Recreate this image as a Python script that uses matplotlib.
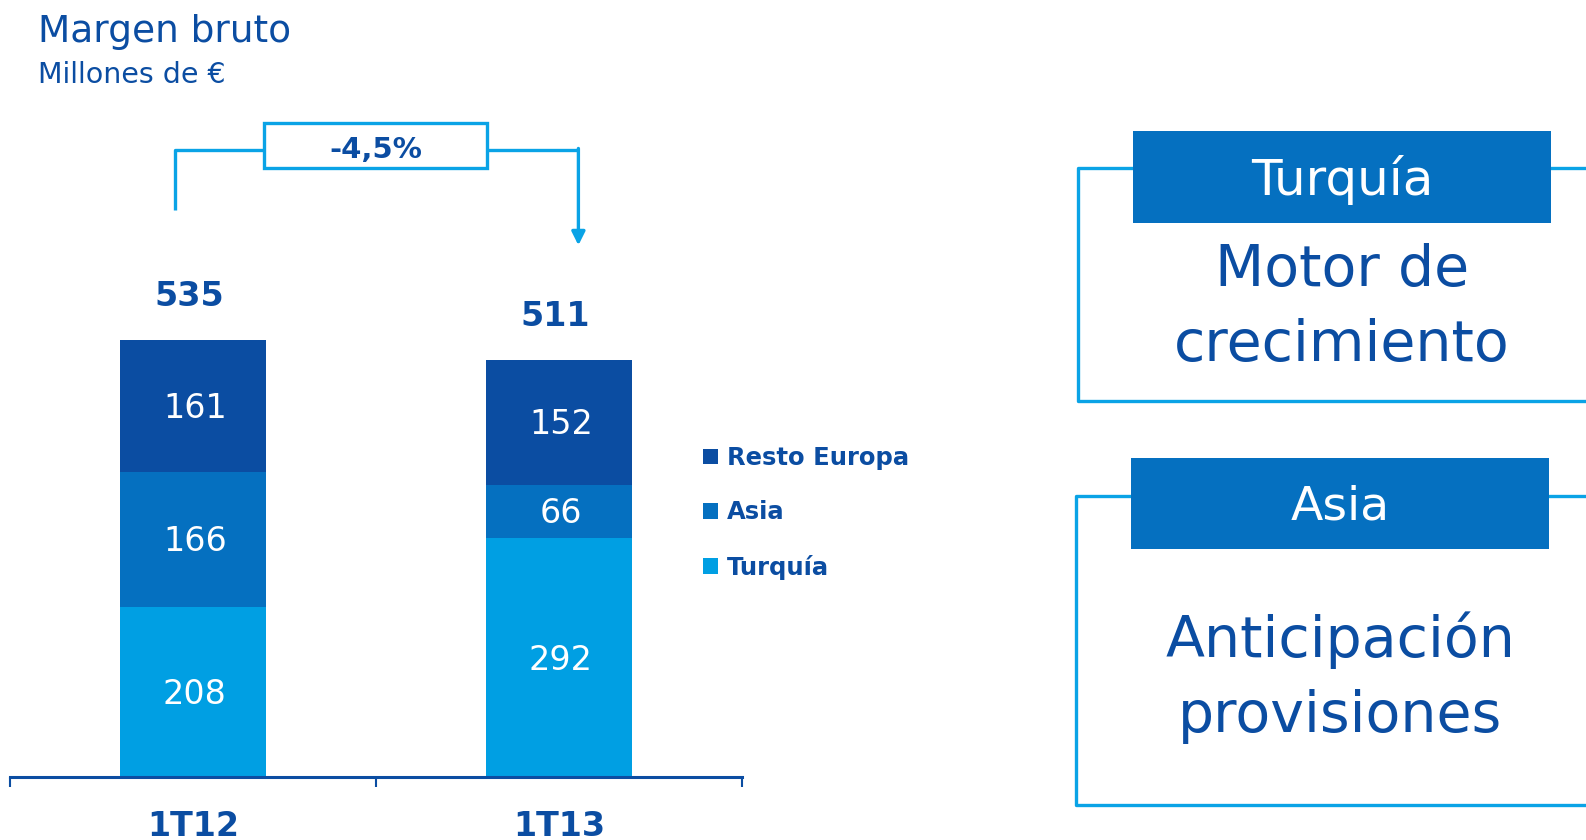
import matplotlib.pyplot as plt
from matplotlib.patches import Rectangle
from matplotlib.lines import Line2D

periods = ['1T12', '1T13']
turquia = [208, 292]
asia = [166, 66]
resto_europa = [161, 152]
totals = [535, 511]
change_label = '-4,5%'

series_names = ['Turquía', 'Asia', 'Resto Europa']
series_values = [turquia, asia, resto_europa]

panel_heads = ['Turquía', 'Asia']
panel_texts = ['Motor de\ncrecimiento', 'Anticipación\nprovisiones']

dark = '#0B4DA2'
mid = '#0570C0'
light = '#009FE3'
line_blue = '#0AA3E6'
colors = [light, mid, dark]

plt.rcParams['font.family'] = ['DejaVu Sans']

W, H = 1586, 840
fig = plt.figure(figsize=(W / 100, H / 100), dpi=100)

# bar chart axes (pixel layout from the reference)
ymax = 830
px_per_unit = 0.8168
ax_h = ymax * px_per_unit
ax = fig.add_axes([10 / W, 63 / H, 732 / W, ax_h / H])
ax.set_xlim(-0.5, 1.5)
ax.set_ylim(0, ymax)

x = list(range(len(periods)))
bottom = [0] * len(periods)
for name, vals, c in zip(series_names, series_values, colors):
    ax.bar(x, vals, width=0.40, bottom=bottom, color=c, label=name, zorder=2)
    for xi, b, v in zip(x, bottom, vals):
        ax.text(xi + 0.005, b + v / 2 - 3, str(v), ha='center', va='center',
                color='white', fontsize=24)
    bottom = [b + v for b, v in zip(bottom, vals)]

for xi, t in zip(x, totals):
    ax.text(xi - 0.01, t + 33, str(t), ha='center', va='bottom',
            color=dark, fontsize=24, fontweight='bold')

# axis styling
for s in ['top', 'right', 'left']:
    ax.spines[s].set_visible(False)
ax.spines['bottom'].set_color(dark)
ax.spines['bottom'].set_linewidth(2.2)
ax.set_yticks([])
ax.set_xticks(x)
ax.set_xticklabels(periods, fontsize=24, fontweight='bold', color=dark)
ax.tick_params(axis='x', which='major', length=0, pad=24)
ax.set_xticks([-0.5, 0.5, 1.5], minor=True)
ax.tick_params(axis='x', which='minor', length=7, width=1.5, color=dark,
               direction='out')

# change bracket
y_line = max(totals) + 233
x_l, x_r = -0.05, 1.053
box_l, box_r = 0.195, 0.802
ax.plot([x_l, x_l, box_l], [totals[0] + 159, y_line, y_line],
        color=line_blue, lw=2.4, solid_capstyle='butt', clip_on=False)
ax.plot([box_r, x_r], [y_line, y_line], color=line_blue, lw=2.4,
        solid_capstyle='butt', clip_on=False)
ax.annotate('', xy=(x_r, totals[1] + 140), xytext=(x_r, y_line + 1.5),
            arrowprops=dict(arrowstyle='-|>,head_length=0.8,head_width=0.4',
                            color=line_blue, lw=2.4, shrinkA=0, shrinkB=0),
            annotation_clip=False)
ax.add_patch(Rectangle((box_l, y_line - 23), box_r - box_l, 56,
                       facecolor='white', edgecolor=line_blue, lw=2.4,
                       clip_on=False, zorder=3))
ax.text((box_l + box_r) / 2, y_line, change_label, ha='center',
        va='center', color=dark, fontsize=21, fontweight='bold', zorder=4)

# legend
handles, labels = ax.get_legend_handles_labels()
leg = ax.legend(handles[::-1], labels[::-1], loc='upper left',
                bbox_to_anchor=(703 / W, 1 - 446 / H),
                bbox_transform=fig.transFigure, frameon=False,
                handlelength=0.6, handleheight=0.6, handletextpad=0.4,
                labelspacing=1.25, borderpad=0, borderaxespad=0,
                prop={'size': 17.5, 'weight': 'bold'})
for t in leg.get_texts():
    t.set_color(dark)

# titles
fig.text(38 / W, 1 - 32 / H, 'Margen bruto', fontsize=27, color=dark,
         va='center', ha='left')
fig.text(38 / W, 1 - 75 / H, 'Millones de €', fontsize=20.5, color=dark,
         va='center', ha='left')

# right side panels in pixel coordinates
ov = fig.add_axes([0, 0, 1, 1], zorder=-1)
ov.set_xlim(0, W)
ov.set_ylim(H, 0)
ov.axis('off')

frames = [(1078, 168, 401), (1076, 496, 805)]
heads = [(1133, 131, 223), (1131, 458, 549)]
body_y = [308, 678]
head_sizes = [36, 34]
for head, body, (fx, ft, fb), (hx, ht, hb), by, hs in zip(
        panel_heads, panel_texts, frames, heads, body_y, head_sizes):
    ov.add_line(Line2D([W + 5, fx, fx, W + 5], [ft, ft, fb, fb],
                       color=line_blue, lw=2.4))
    ov.add_patch(Rectangle((hx, ht), 418, hb - ht, facecolor=mid,
                           edgecolor='none', zorder=3))
    ov.text(hx + 209, (ht + hb) / 2 + 3, head, ha='center', va='center',
            color='white', fontsize=hs, zorder=4)
    ov.text(hx + 209, by, body, ha='center', va='center', color=dark,
            fontsize=41, linespacing=1.47)

fig.savefig('out.png', dpi=100)
